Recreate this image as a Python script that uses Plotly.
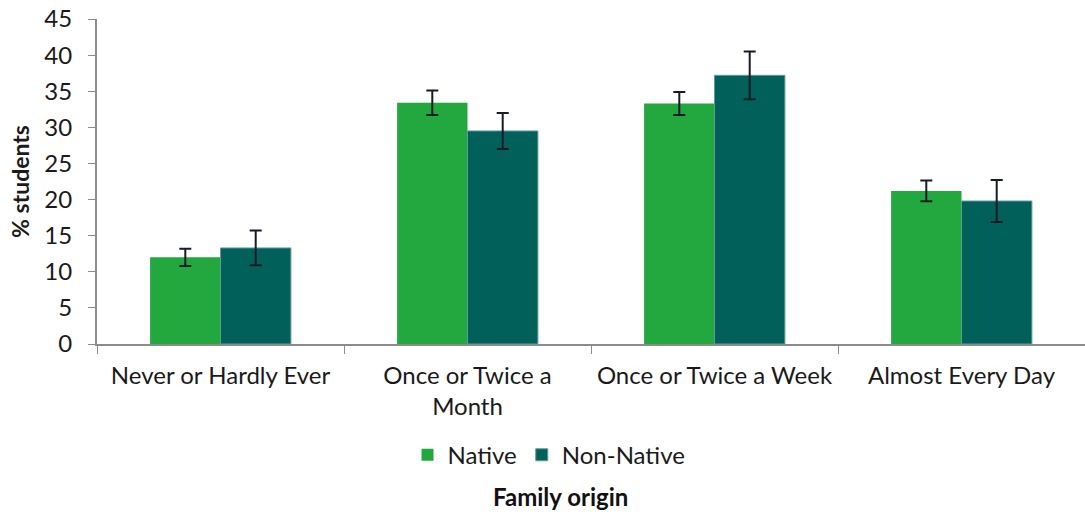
import plotly.graph_objects as go

categories = ["Never or Hardly Ever", "Once or Twice a<br>Month",
              "Once or Twice a Week", "Almost Every Day"]
native = [12.0, 33.4, 33.3, 21.2]
native_err = [1.2, 1.7, 1.6, 1.45]
non_native = [13.3, 29.5, 37.2, 19.8]
non_native_err = [2.4, 2.5, 3.3, 2.9]

FONT = "Lato, Liberation Sans, sans-serif"
err_style = dict(type="data", thickness=2, width=6, color="#161b26")

fig = go.Figure()
fig.add_trace(go.Bar(
    x=categories, y=native, name="Native",
    marker=dict(color="#22a83f", line=dict(width=0)),
    error_y=dict(array=native_err, **err_style)
))
fig.add_trace(go.Bar(
    x=categories, y=non_native, name="Non-Native",
    marker=dict(color="#02605a", line=dict(color="#5f9c98", width=1)),
    error_y=dict(array=non_native_err, **err_style)
))

# x title sits below the legend
fig.add_annotation(
    text="<b>Family origin</b>", xref="paper", yref="paper",
    x=0.469, y=-0.47, yanchor="middle", showarrow=False,
    font=dict(size=24, color="#111")
)

fig.update_layout(
    width=1085, height=517,
    margin=dict(l=97, r=0, t=19, b=173),
    barmode="group", bargap=0.43, bargroupgap=0,
    plot_bgcolor="white", paper_bgcolor="white",
    font=dict(family=FONT, size=24, color="#1a1a1a"),
    legend=dict(orientation="h", x=0.4575, xanchor="center", y=-0.342, yanchor="middle",
                font=dict(size=24), itemwidth=30, traceorder="normal"),
    xaxis=dict(
        showline=True, linecolor="#8c8c8c", linewidth=2,
        tickson="boundaries", ticks="outside", ticklen=8, tickcolor="#8c8c8c",
        tickfont=dict(size=24), ticklabelstandoff=9
    ),
    yaxis=dict(
        range=[0, 45], dtick=5, showgrid=False, zeroline=False,
        showline=True, linecolor="#8c8c8c", linewidth=2,
        ticks="outside", ticklen=7, tickcolor="#8c8c8c",
        tickfont=dict(size=24), ticklabelstandoff=11,
        title=dict(text="<b>% students</b>", font=dict(size=23), standoff=8)
    ),
)

# drop the default 8px page margin so the figure sits at the window corner
fig.write_html("out.html", config={"displayModeBar": False},
               post_script="document.body.style.margin='0';")
